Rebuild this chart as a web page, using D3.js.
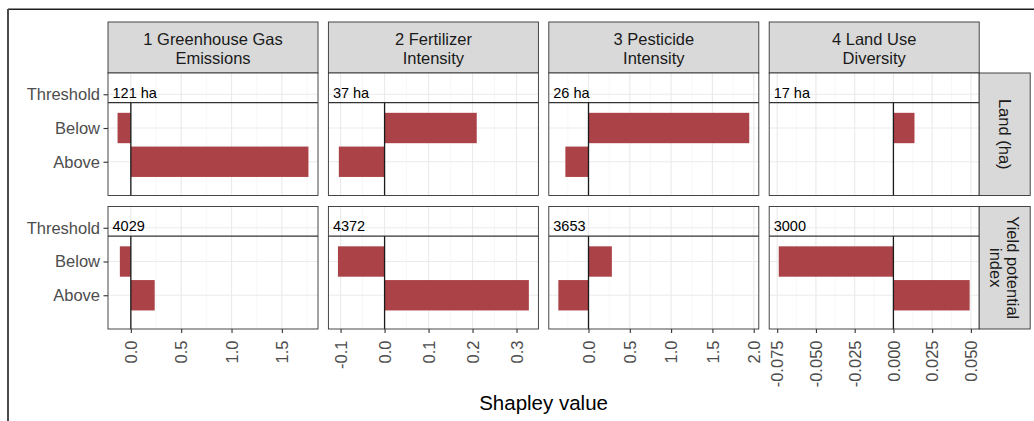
<!DOCTYPE html>
<html>
<head>
<meta charset="utf-8">
<script src="https://cdn.jsdelivr.net/npm/d3@7"></script>
<style>
  html, body { margin: 0; padding: 0; background: #fff; }
  svg { display: block; font-family: "Liberation Sans", Arial, Helvetica, sans-serif; }
</style>
</head>
<body>
<script>
// Facet columns (outcomes) and facet rows (drivers)
const columns = ["1 Greenhouse Gas\nEmissions", "2 Fertilizer\nIntensity", "3 Pesticide\nIntensity", "4 Land Use\nDiversity"];
const rowNames = ["Land (ha)", "Yield potential\nindex"];
const levels = ["Above", "Below", "Threshold"];

// Threshold annotations per column
const landThreshold = ["121 ha", "37 ha", "26 ha", "17 ha"];
const yieldThreshold = ["4029", "4372", "3653", "3000"];

// Shapley values per column
const landBelow = [-0.132, 0.2095, 1.946, 0.0136];
const landAbove = [1.764, -0.104, -0.28, 0.0];
const yieldBelow = [-0.109, -0.106, 0.283, -0.074];
const yieldAbove = [0.237, 0.328, -0.365, 0.0492];

// Axis breaks per column
const xTicks = [
  [0, 0.5, 1.0, 1.5],
  [-0.1, 0, 0.1, 0.2, 0.3],
  [0, 0.5, 1.0, 1.5, 2.0],
  [-0.075, -0.05, -0.025, 0, 0.025, 0.05]
];
const xTickFormats = [".1f", ".1f", ".1f", ".3f"];

const rowsData = [
  { label: rowNames[0], thresholds: landThreshold, below: landBelow, above: landAbove },
  { label: rowNames[1], thresholds: yieldThreshold, below: yieldBelow, above: yieldAbove }
];

const W = 1034, H = 421;
const panelW = 210, colStep = 220.4, panelLeft = 108;
const panelH = 122.5;
const rowTops = [73, 206.5];
const stripTop = 22;
const stripRightW = 51;

const locale = d3.formatLocale({ decimal: ".", thousands: ",", grouping: [3], currency: ["$", ""], minus: "-" });

const svg = d3.select("body").append("svg").attr("width", W).attr("height", H);

// frame around the figure
svg.append("line").attr("x1", 8).attr("x2", W).attr("y1", 9.3).attr("y2", 9.3)
  .attr("stroke", "#1f1f1f").attr("stroke-width", 1.4);
svg.append("line").attr("x1", 8).attr("x2", 8).attr("y1", 9).attr("y2", H)
  .attr("stroke", "#4a4a4a").attr("stroke-width", 2);

const y = d3.scaleLinear().domain([0, 3.63]).range([panelH, 0]);
const barHalf = 0.45;
const sepLevel = 2.75;

const barColor = "#ab4247";
const gridMajor = "#ebebeb";
const gridMinor = "#f3f3f3";
const borderColor = "#333333";

columns.forEach((colName, ci) => {
  const x0 = panelLeft + ci * colStep;
  const allVals = rowsData.flatMap(r => [r.below[ci], r.above[ci]]);
  const [mn, mx] = d3.extent(allVals);
  const pad = (mx - mn) * 0.05;
  const x = d3.scaleLinear().domain([mn - pad, mx + pad]).range([0, panelW]);
  const ticks = xTicks[ci];
  const step = ticks[1] - ticks[0];
  const minor = [];
  for (let k = -1; k < ticks.length; k++) {
    const m = ticks[0] + (k + 0.5) * step;
    if (m >= x.domain()[0] && m <= x.domain()[1]) minor.push(m);
  }

  // column strip
  const strip = svg.append("g").attr("transform", `translate(${x0},${stripTop})`);
  strip.append("rect").attr("width", panelW).attr("height", rowTops[0] - stripTop)
    .attr("fill", "#d9d9d9").attr("stroke", borderColor).attr("stroke-width", 0.9);
  const lines = colName.split("\n");
  const st = strip.append("text").attr("x", panelW / 2).attr("text-anchor", "middle")
    .attr("font-size", "16.5px").attr("fill", "#1a1a1a");
  lines.forEach((l, li) => st.append("tspan").attr("x", panelW / 2).attr("y", 23 + li * 19).text(l));

  rowsData.forEach((row, ri) => {
    const g = svg.append("g").attr("transform", `translate(${x0},${rowTops[ri]})`);
    g.append("rect").attr("width", panelW).attr("height", panelH).attr("fill", "#fff");

    g.selectAll(".gminor").data(minor).join("line")
      .attr("x1", d => x(d)).attr("x2", d => x(d)).attr("y1", 0).attr("y2", panelH)
      .attr("stroke", gridMinor).attr("stroke-width", 0.7);
    g.selectAll(".gmajor").data(ticks).join("line")
      .attr("x1", d => x(d)).attr("x2", d => x(d)).attr("y1", 0).attr("y2", panelH)
      .attr("stroke", gridMajor).attr("stroke-width", 1.2);
    g.selectAll(".ghor").data([1, 2, 3]).join("line")
      .attr("x1", 0).attr("x2", panelW).attr("y1", d => y(d)).attr("y2", d => y(d))
      .attr("stroke", gridMajor).attr("stroke-width", 1.2);

    const bars = [
      { level: 2, value: row.below[ci] },
      { level: 1, value: row.above[ci] }
    ];
    g.selectAll(".bar").data(bars).join("rect")
      .attr("x", d => x(Math.min(0, d.value)))
      .attr("width", d => Math.abs(x(d.value) - x(0)))
      .attr("y", d => y(d.level + barHalf))
      .attr("height", d => y(d.level - barHalf) - y(d.level + barHalf))
      .attr("fill", barColor);

    // divider between threshold annotation and bars
    g.append("line").attr("x1", 0).attr("x2", panelW).attr("y1", y(sepLevel)).attr("y2", y(sepLevel))
      .attr("stroke", borderColor).attr("stroke-width", 1.3);
    // zero reference
    g.append("line").attr("x1", x(0)).attr("x2", x(0)).attr("y1", y(sepLevel)).attr("y2", panelH)
      .attr("stroke", "#1a1a1a").attr("stroke-width", 1.3);

    g.append("text").attr("x", 4.5).attr("y", y(3) + 3.5)
      .attr("font-size", "14.5px").attr("fill", "#000").text(row.thresholds[ci]);

    g.append("rect").attr("width", panelW).attr("height", panelH)
      .attr("fill", "none").attr("stroke", borderColor).attr("stroke-width", 0.9);

    if (ci === 0) {
      const ay = g.append("g").call(d3.axisLeft(y).tickValues([1, 2, 3]).tickFormat(d => levels[d - 1]).tickSize(4.5).tickPadding(3.5));
      ay.select(".domain").remove();
      ay.selectAll(".tick line").attr("stroke", borderColor).attr("stroke-width", 1.1);
      ay.selectAll(".tick text").attr("font-size", "16.5px").attr("fill", "#4d4d4d")
        .attr("font-family", "Liberation Sans, Arial, sans-serif");
    }

    if (ri === rowsData.length - 1) {
      const ax = g.append("g").attr("transform", `translate(0,${panelH})`)
        .call(d3.axisBottom(x).tickValues(ticks).tickFormat(locale.format(xTickFormats[ci])).tickSize(4));
      ax.select(".domain").remove();
      ax.selectAll(".tick line").attr("stroke", borderColor).attr("stroke-width", 1.1);
      ax.selectAll(".tick text").attr("transform", "rotate(-90)").attr("x", -11.5).attr("y", 0)
        .attr("dy", "0.35em").style("text-anchor", "end")
        .attr("font-size", "16.5px").attr("fill", "#4d4d4d")
        .attr("font-family", "Liberation Sans, Arial, sans-serif");
    }

    if (ci === columns.length - 1) {
      const sx = x0 + panelW;
      const sg = svg.append("g").attr("transform", `translate(${sx},${rowTops[ri]})`);
      sg.append("rect").attr("width", stripRightW).attr("height", panelH)
        .attr("fill", "#d9d9d9").attr("stroke", borderColor).attr("stroke-width", 0.9);
      const parts = row.label.split("\n");
      const tx = sg.append("text")
        .attr("transform", `translate(${stripRightW / 2},${panelH / 2}) rotate(90)`)
        .attr("text-anchor", "middle").attr("font-size", "16.5px").attr("fill", "#1a1a1a");
      parts.forEach((p, pi) => {
        const off = (pi - (parts.length - 1) / 2) * 17;
        tx.append("tspan").attr("x", 0).attr("y", off).attr("dy", "0.35em").text(p);
      });
    }
  });
});

// shared x-axis title
svg.append("text").attr("x", panelLeft + (3 * colStep + panelW) / 2).attr("y", 409.5)
  .attr("text-anchor", "middle").attr("font-size", "20.5px").attr("fill", "#000").text("Shapley value");
</script>
</body>
</html>
